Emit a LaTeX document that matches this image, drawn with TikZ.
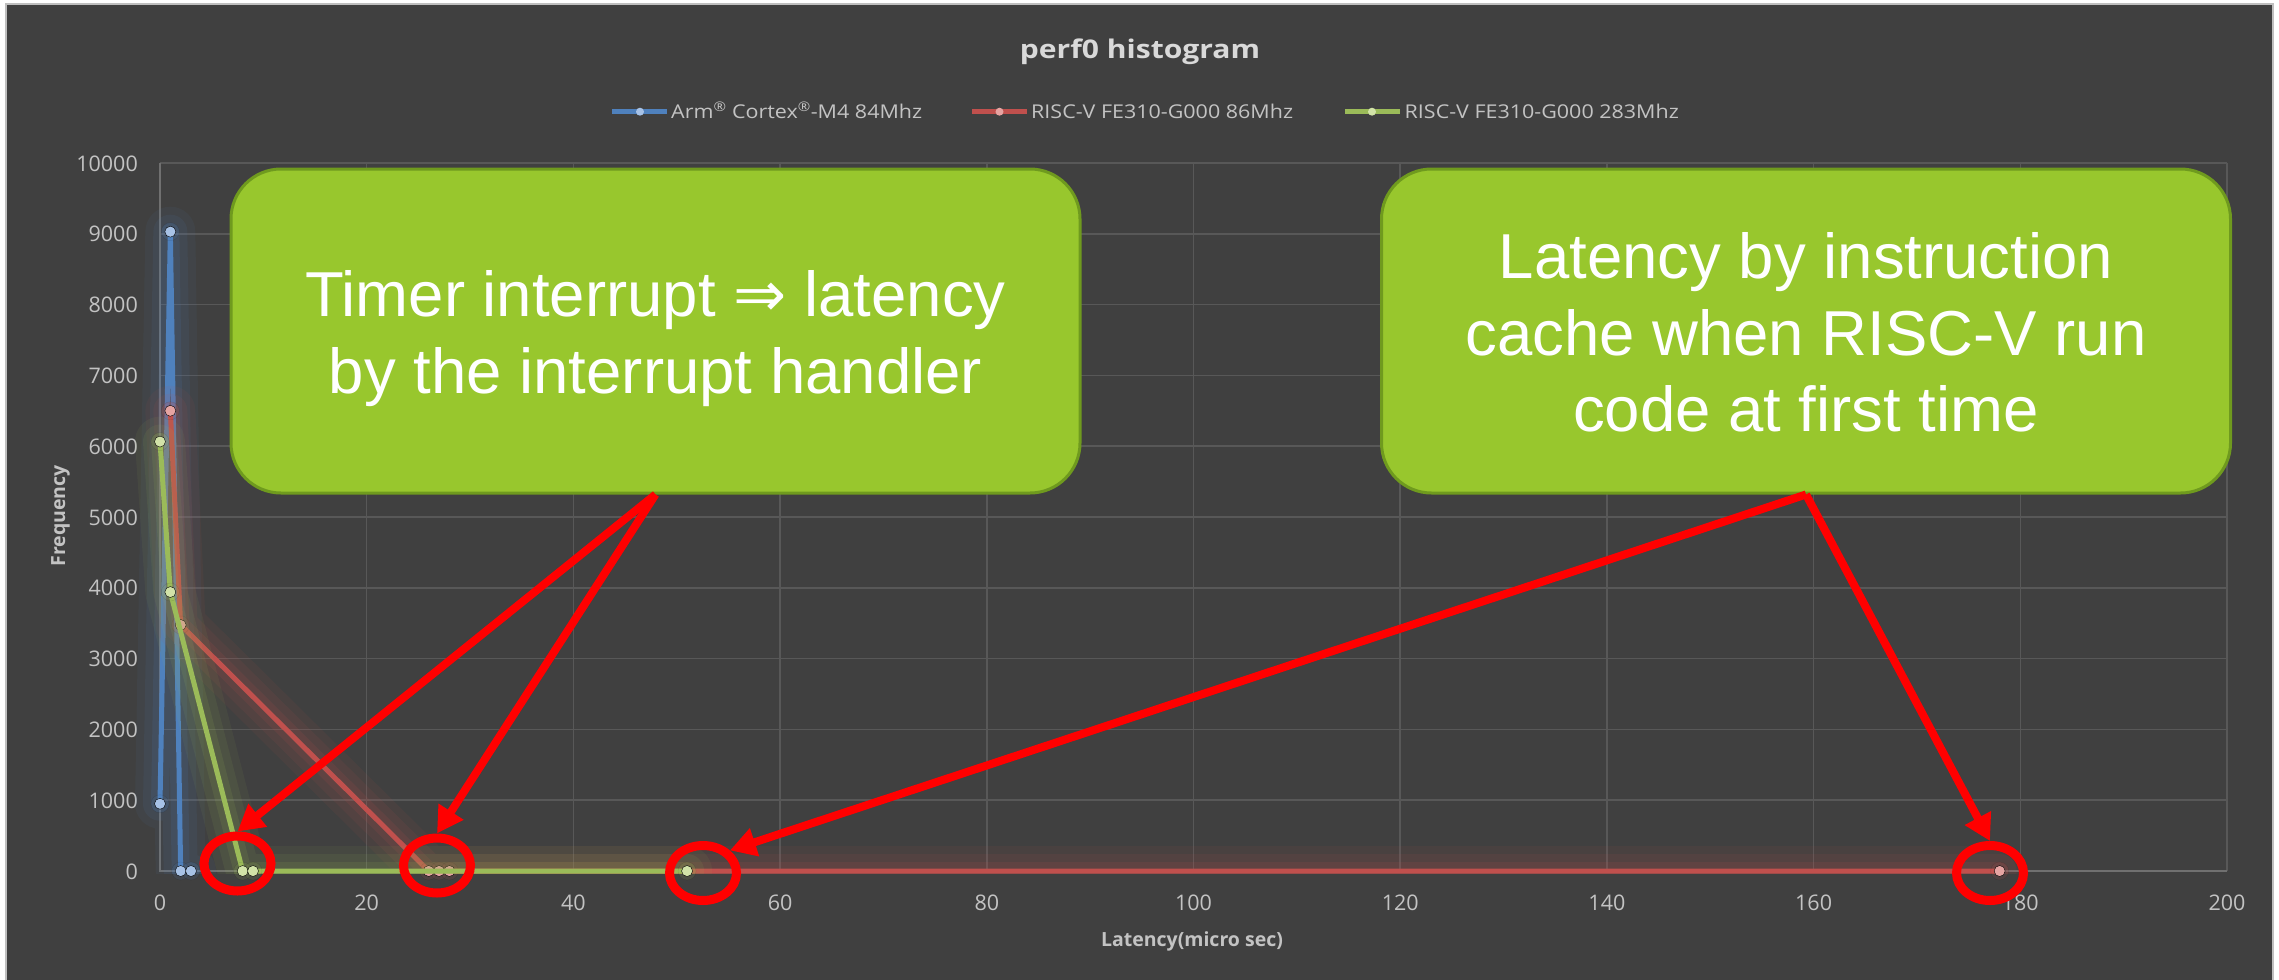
\documentclass[tikz,border=0pt]{standalone}
\usepackage{fontspec}
\usetikzlibrary{arrows.meta,shapes.geometric}
\newfontfamily\chartfont{Open Sans}
\newfontfamily\charttitlefont[FakeStretch=1.17]{Open Sans}
\newfontfamily\legendfont[FakeStretch=1.13]{Open Sans}
\newfontfamily\calloutfont{Liberation Sans}
\newfontfamily\arrowsymfont{DejaVu Sans}

\definecolor{chartbg}{HTML}{404040}
\definecolor{framec}{HTML}{BFBFBF}
\definecolor{gridc}{HTML}{585858}
\definecolor{axisc}{HTML}{707070}
\definecolor{tickc}{HTML}{C3C3C3}
\definecolor{titlec}{HTML}{D9D9D9}
\definecolor{armblue}{HTML}{4F81BD}
\definecolor{armblueL}{HTML}{A7C2E6}
\definecolor{rvred}{HTML}{C0504D}
\definecolor{rvredL}{HTML}{E6A4A2}
\definecolor{rvgreen}{HTML}{9BBB59}
\definecolor{rvgreenL}{HTML}{D2E3A8}
\definecolor{calloutfill}{HTML}{98C72D}
\definecolor{calloutdraw}{HTML}{6F9A1E}
\definecolor{markred}{HTML}{FF0000}

\newcommand{\drawseries}[3]{%
  \begin{scope}
    \clip (-20,-40) rectangle (215,10500);
    \draw[#1, opacity=.07, line width=50pt, line join=round, line cap=round] plot coordinates {#3};
    \draw[#1, opacity=.09, line width=34pt, line join=round, line cap=round] plot coordinates {#3};
    \draw[#1, opacity=.12, line width=18pt, line join=round, line cap=round] plot coordinates {#3};
  \end{scope}
  \draw[#1, line width=5pt, line join=round] plot coordinates {#3};
  \draw plot[only marks, mark=*, mark size=9pt, mark options={fill=#1, draw=none, opacity=.12}] coordinates {#3};
  \draw plot[only marks, mark=*, mark size=5.5pt, mark options={fill=#2, draw=none}] coordinates {#3};
}

\tikzset{
  ticklabel/.style={font={\chartfont\fontsize{21.5}{26}\selectfont}, text=tickc, inner sep=0pt},
  axistitle/.style={font={\chartfont\bfseries\fontsize{19.5}{24}\selectfont}, text=tickc, inner sep=0pt},
  legendtext/.style={font={\legendfont\fontsize{19}{23}\selectfont}, text=tickc, inner sep=0pt, anchor=base west},
  calloutbox/.style={draw=calloutdraw, line width=3pt, fill=calloutfill, rounded corners=50pt,
    minimum width=849pt, minimum height=324pt, inner sep=0pt},
  callouttext/.style={font={\calloutfont\fontsize{63.5}{76.5}\selectfont}, text=white, align=center, inner sep=0pt},
  redarrow/.style={draw=markred, line width=8pt, -{Triangle[length=26pt,width=28pt]}},
  redring/.style={ellipse, draw=markred, line width=9pt, minimum width=67pt, minimum height=55pt, inner sep=0pt},
}

\begin{document}
\begin{tikzpicture}[x=1pt, y=-1pt]
\useasboundingbox (0,0) rectangle (2279,980);
\fill[white] (0,0) rectangle (2279,980);
\filldraw[fill=chartbg, draw=framec, line width=1.5pt] (6,4) rectangle (2273,990);

% grid
\foreach \k in {0,...,10} \draw[gridc, line width=1.5pt] (160,{871-70.8*\k}) -- (2227,{871-70.8*\k});
\foreach \j in {1,...,10} \draw[gridc, line width=1.5pt] ({160+206.7*\j},163) -- ({160+206.7*\j},871);
\draw[axisc, line width=1.5pt] (160,163) -- (160,871) -- (2227,871);

% tick labels
\foreach \k in {0,...,10} \node[ticklabel, anchor=base east] (yt\k) at (138,{871-70.8*\k+8}) {\number\numexpr1000*\k\relax};
\foreach \j in {0,...,10} \node[ticklabel, anchor=base] (xt\j) at ({160+206.7*\j},910) {\number\numexpr20*\j\relax};

% axis titles
\node[axistitle, rotate=90, anchor=base] (ytitle) at (65,516) {Frequency};
\node[axistitle, anchor=base] (xtitle) at (1192,946) {Latency(micro sec)};

% chart title
\node[font={\charttitlefont\bfseries\fontsize{25.7}{30}\selectfont}, text=titlec, inner sep=0pt, anchor=base] (title) at (1140,58.3) {perf0 histogram};

% legend
\draw[armblue, line width=4.5pt] (612,111.7) -- (667,111.7);
\fill[armblueL] (640,111.7) circle[radius=4pt];
\node[legendtext] (leg1) at (671,118) {Arm\textsuperscript{®} Cortex\textsuperscript{®}-M4 84Mhz};
\draw[rvred, line width=4.5pt] (972,111.7) -- (1027,111.7);
\fill[rvredL] (999.5,111.7) circle[radius=4pt];
\node[legendtext] (leg2) at (1031,118) {RISC-V FE310-G000 86Mhz};
\draw[rvgreen, line width=4.5pt] (1345,111.7) -- (1400,111.7);
\fill[rvgreenL] (1372,111.7) circle[radius=4pt];
\node[legendtext] (leg3) at (1404.5,118) {RISC-V FE310-G000 283Mhz};

% series
\begin{scope}[shift={(160,871)}, x=10.335pt, y=0.0708pt]
  \drawseries{armblue}{armblueL}{(0,950) (1,9030) (2,0) (3,0)}
  \drawseries{rvred}{rvredL}{(1,6500) (2,3475) (26,0) (27,0) (28,0) (178,0)}
  \drawseries{rvgreen}{rvgreenL}{(0,6065) (1,3940) (8,0) (9,0) (51,0)}
\end{scope}

% callouts
\node[calloutbox] (b1) at (655.5,331) {};
\node[callouttext] (t1) at (655.5,338.5) {Timer interrupt {\arrowsymfont ⇒} latency\\by the interrupt handler};
\node[calloutbox] (b2) at (1806,331) {};
\node[callouttext] (t2) at (1806,332.5) {Latency by instruction\\cache when RISC-V run\\code at first time};

% rings
\node[redring] (e1) at (237.5,863.5) {};
\node[redring] (e2) at (437,865.5) {};
\node[redring] (e3) at (703,873) {};
\node[redring] (e4) at (1990,873) {};

% arrows
\draw[redarrow] (b1.south) -- (e1.north);
\draw[redarrow] (b1.south) -- (e2.north);
\draw[redarrow] (b2.south) -- (e3.40);
\draw[redarrow] (b2.south) -- (e4.north);
\end{tikzpicture}
\end{document}
